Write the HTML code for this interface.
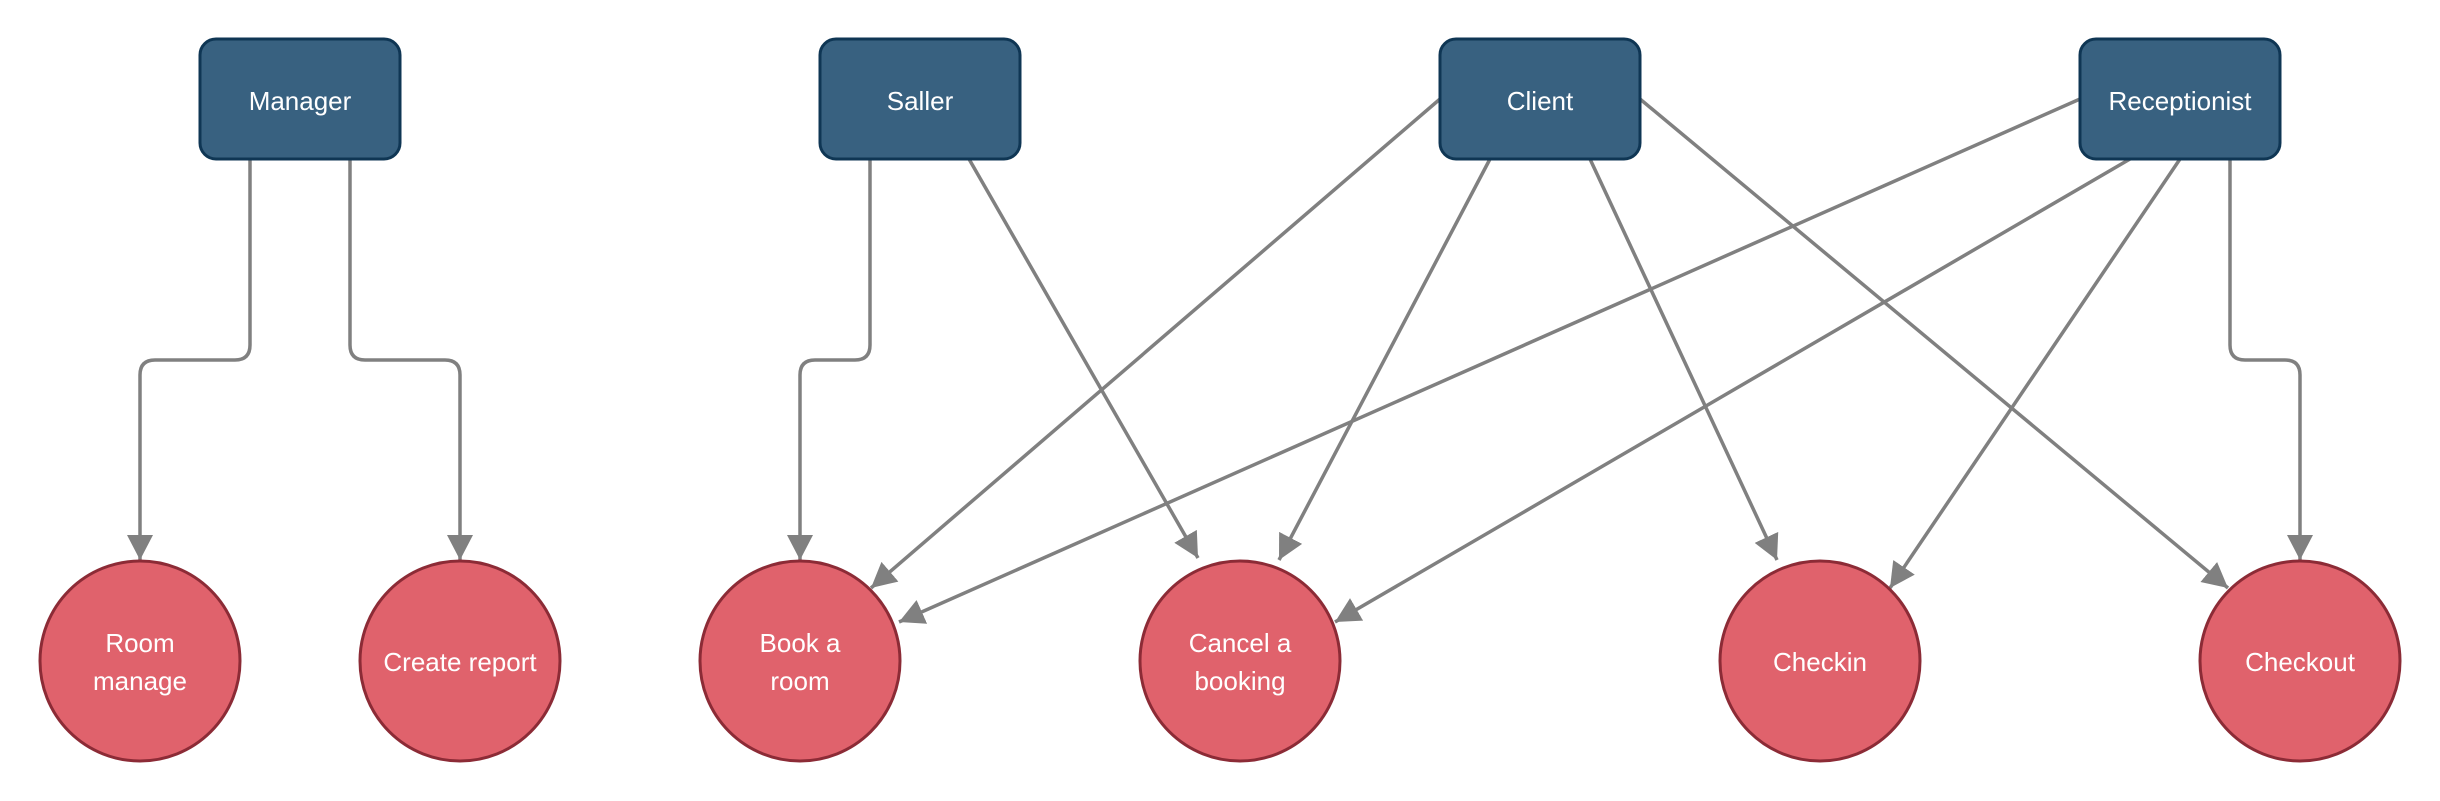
<!DOCTYPE html>
<html><head><meta charset="utf-8"><style>
html,body{margin:0;padding:0;background:#fff;}
svg{display:block;}
text{font-family:"Liberation Sans",sans-serif;font-size:26px;fill:#fff;text-anchor:middle;dominant-baseline:middle;}
</style></head><body>
<svg width="2440" height="801" viewBox="0 0 2440 801" xmlns="http://www.w3.org/2000/svg">
<defs>
<marker id="a" markerUnits="userSpaceOnUse" markerWidth="28" markerHeight="28" viewBox="0 0 28 28" refX="25" refY="14" orient="auto">
<path d="M0,1 L25,14 L0,27 Z" fill="#808080"/>
</marker>
</defs>
<g fill="none" stroke="#808080" stroke-width="3.5" marker-end="url(#a)">
<path d="M250,159 V345 Q250,360 235,360 H155 Q140,360 140,375 V560"/>
<path d="M350,159 V345 Q350,360 365,360 H445 Q460,360 460,375 V560"/>
<path d="M870,159 V345 Q870,360 855,360 H815 Q800,360 800,375 V560"/>
<path d="M2230,159 V345 Q2230,360 2245,360 H2285 Q2300,360 2300,375 V560"/>
<path d="M969,159 L1198,558"/>
<path d="M1440,99 L871,588"/>
<path d="M1490,159 L1279,560"/>
<path d="M1590,159 L1777,560"/>
<path d="M1640,99 L2228,588"/>
<path d="M2080,99 L899,622"/>
<path d="M2130,159 L1335,622"/>
<path d="M2180,159 L1890,588"/>
</g>
<g fill="#386180" stroke="#0f3654" stroke-width="3">
<rect x="200" y="39" width="200" height="120" rx="16"/>
<rect x="820" y="39" width="200" height="120" rx="16"/>
<rect x="1440" y="39" width="200" height="120" rx="16"/>
<rect x="2080" y="39" width="200" height="120" rx="16"/>
</g>
<text x="300" y="103">Manager</text>
<text x="920" y="103">Saller</text>
<text x="1540" y="103">Client</text>
<text x="2180" y="103">Receptionist</text>
<g fill="#e0626c" stroke="#8c2b36" stroke-width="3">
<circle cx="140" cy="661" r="100"/>
<circle cx="460" cy="661" r="100"/>
<circle cx="800" cy="661" r="100"/>
<circle cx="1240" cy="661" r="100"/>
<circle cx="1820" cy="661" r="100"/>
<circle cx="2300" cy="661" r="100"/>
</g>
<text x="140" y="645">Room</text><text x="140" y="683">manage</text>
<text x="460" y="664">Create report</text>
<text x="800" y="645">Book a</text><text x="800" y="683">room</text>
<text x="1240" y="645">Cancel a</text><text x="1240" y="683">booking</text>
<text x="1820" y="664">Checkin</text>
<text x="2300" y="664">Checkout</text>
</svg>
</body></html>
